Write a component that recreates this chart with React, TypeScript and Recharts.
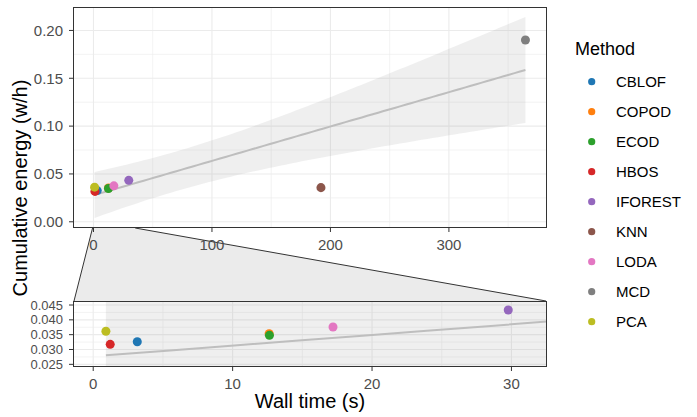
import React from 'react';
import { ComposedChart, Scatter, Line, Area, XAxis, YAxis, CartesianGrid } from 'recharts';

// ---- data ----
const methods = ['CBLOF', 'COPOD', 'ECOD', 'HBOS', 'IFOREST', 'KNN', 'LODA', 'MCD', 'PCA'];
const colors = ['#1F77B4', '#FF7F0E', '#2CA02C', '#D62728', '#9467BD', '#8C564B', '#E377C2', '#7F7F7F', '#BCBD22'];
const wallTime = [3.16, 12.62, 12.64, 1.22, 29.77, 192.0, 17.2, 364.6, 0.91];
const energy = [0.03262, 0.03532, 0.03478, 0.03174, 0.04331, 0.0357, 0.03758, 0.19, 0.03617];

const topXTicks = [0, 100, 200, 300];
const topXMinor = [50, 150, 250, 350];
const topYTicks = [0, 0.05, 0.1, 0.15, 0.2];
const topYMinor = [0.025, 0.075, 0.125, 0.175];
const botXTicks = [0, 10, 20, 30];
const botXMinor = [5, 15, 25];
const botYTicks = [0.025, 0.03, 0.035, 0.04, 0.045];
const botYMinor = [0.0275, 0.0325, 0.0375, 0.0425];

// ---- linear model (stat_smooth, method = lm, 95% CI) ----
const n = wallTime.length;
const mx = wallTime.reduce((a, b) => a + b, 0) / n;
const my = energy.reduce((a, b) => a + b, 0) / n;
let sxx = 0, sxy = 0;
for (let i = 0; i < n; i++) { sxx += (wallTime[i] - mx) ** 2; sxy += (wallTime[i] - mx) * (energy[i] - my); }
const slope = sxy / sxx;
const intercept = my - slope * mx;
let ssr = 0;
for (let i = 0; i < n; i++) ssr += (energy[i] - (intercept + slope * wallTime[i])) ** 2;
const sigma = Math.sqrt(ssr / (n - 2));
const tq = 2.3646; // t(0.975, df = 7)
const xMin = Math.min(...wallTime), xMax = Math.max(...wallTime);
const fitData = Array.from({ length: 80 }, (_, k) => {
  const x = xMin + (k * (xMax - xMin)) / 79;
  const f = intercept + slope * x;
  const se = sigma * Math.sqrt(1 / n + (x - mx) ** 2 / sxx);
  return { x, fit: f, band: [f - tq * se, f + tq * se] };
});

// ---- layout ----
const W = 697, H = 417;
const PL = 73, PR = 547;
const topY0 = 7, topY1 = 228;
const botY0 = 301, botY1 = 367;
const topXDomain: [number, number] = [-17.3, 382.8];
const topYDomain: [number, number] = [-0.0065, 0.2245];
const botXDomain: [number, number] = [-1.45, 32.55];
const botYDomain: [number, number] = [0.0241, 0.04635];
const zoomX: [number, number] = [-0.8, 35.2];
const FONT = '"Liberation Sans", Arial, sans-serif';

const topPx = (v: number) => PL + ((v - topXDomain[0]) / (topXDomain[1] - topXDomain[0])) * (PR - PL);

const tickStyle = { fill: '#4D4D4D', fontSize: 15, fontFamily: FONT };

function Panel({ top, height, xDomain, yDomain, xTicks, xMinor, yTicks, yMinor, yFmt, xH, filterPts, yFont }: any) {
  const pts = methods.map((m, i) => ({ m, i, x: wallTime[i], y: energy[i] }))
    .filter(p => !filterPts || (p.x >= xDomain[0] && p.x <= xDomain[1] && p.y >= yDomain[0] && p.y <= yDomain[1]));
  return (
    <div style={{ position: 'absolute', left: 0, top: 0 }}>
      <ComposedChart width={W} height={height} data={fitData}
        margin={{ top, right: W - PR, bottom: 0, left: PL - 60 }}>
        <CartesianGrid horizontalValues={yMinor} verticalValues={xMinor} stroke="#EBEBEB" strokeWidth={0.6} />
        <CartesianGrid horizontalValues={yTicks} verticalValues={xTicks} stroke="#EBEBEB" strokeWidth={1.1} />
        <XAxis type="number" dataKey="x" domain={xDomain} ticks={xTicks} allowDataOverflow interval={0}
          height={xH} axisLine={false} tickLine={{ stroke: '#333333' }} tickSize={4} tickMargin={7} tick={tickStyle} />
        <YAxis type="number" domain={yDomain} ticks={yTicks} allowDataOverflow interval={0} width={60}
          axisLine={false} tickLine={{ stroke: '#333333' }} tickSize={4} tickMargin={6}
          tick={{ ...tickStyle, fontSize: yFont }} tickFormatter={yFmt} />
        <Area dataKey="band" type="linear" fill="#999999" fillOpacity={0.16} stroke="none" isAnimationActive={false} />
        <Line dataKey="fit" type="linear" stroke="#BEBEBE" strokeWidth={2} dot={false} isAnimationActive={false} />
        {pts.map(p => (
          <Scatter key={p.m} name={p.m} data={[{ x: p.x, y: p.y }]} dataKey="y" fill={colors[p.i]}
            isAnimationActive={false} />
        ))}
      </ComposedChart>
    </div>
  );
}

export default function App() {
  const tl = topPx(zoomX[0]), tr = topPx(zoomX[1]);
  return (
    <div style={{ position: 'absolute', left: 0, top: 0, width: W, height: H, background: '#fff', fontFamily: FONT }}>
      <svg width={W} height={H} style={{ position: 'absolute', left: 0, top: 0 }}>
        <polygon points={`${tl},${topY1} ${tr},${topY1} ${PR - 1},${botY0} ${PL + 1},${botY0}`} fill="#EBEBEB" />
        <line x1={tl} y1={topY1} x2={PL + 1} y2={botY0} stroke="#333" strokeWidth={1} />
        <line x1={tr} y1={topY1} x2={PR - 1} y2={botY0} stroke="#333" strokeWidth={1} />
      </svg>
      <Panel top={topY0} height={topY1 + 32} xH={32} xDomain={topXDomain} yDomain={topYDomain}
        xTicks={topXTicks} xMinor={topXMinor} yTicks={topYTicks} yMinor={topYMinor}
        yFmt={(v: number) => v.toFixed(2)} filterPts={false} yFont={15} />
      <Panel top={botY0} height={H} xH={H - botY1} xDomain={botXDomain} yDomain={botYDomain}
        xTicks={botXTicks} xMinor={botXMinor} yTicks={botYTicks} yMinor={botYMinor}
        yFmt={(v: number) => v.toFixed(3)} filterPts={true} yFont={13} />
      <svg width={W} height={H} style={{ position: 'absolute', left: 0, top: 0, pointerEvents: 'none' }}>
        <rect x={PL + 0.5} y={topY0 + 0.5} width={PR - PL - 1} height={topY1 - topY0 - 1} fill="none" stroke="#333" strokeWidth={1} />
        <rect x={PL + 0.5} y={botY0 + 0.5} width={PR - PL - 1} height={botY1 - botY0 - 1} fill="none" stroke="#333" strokeWidth={1} />
        <text x={310} y={408} textAnchor="middle" fontSize={20} fontFamily={FONT} fill="#000">Wall time (s)</text>
        <text x={0} y={0} transform="translate(27,188) rotate(-90)" textAnchor="middle" fontSize={20} fontFamily={FONT} fill="#000">Cumulative energy (w/h)</text>
        <text x={575} y={55} fontSize={18} fontFamily={FONT} fill="#000">Method</text>
        {methods.map((m, i) => (
          <g key={m}>
            <circle cx={591.7} cy={81.7 + i * 30} r={3.6} fill={colors[i]} />
            <text x={616} y={81.7 + i * 30 + 5.3} fontSize={15} fontFamily={FONT} fill="#000">{m}</text>
          </g>
        ))}
      </svg>
    </div>
  );
}
